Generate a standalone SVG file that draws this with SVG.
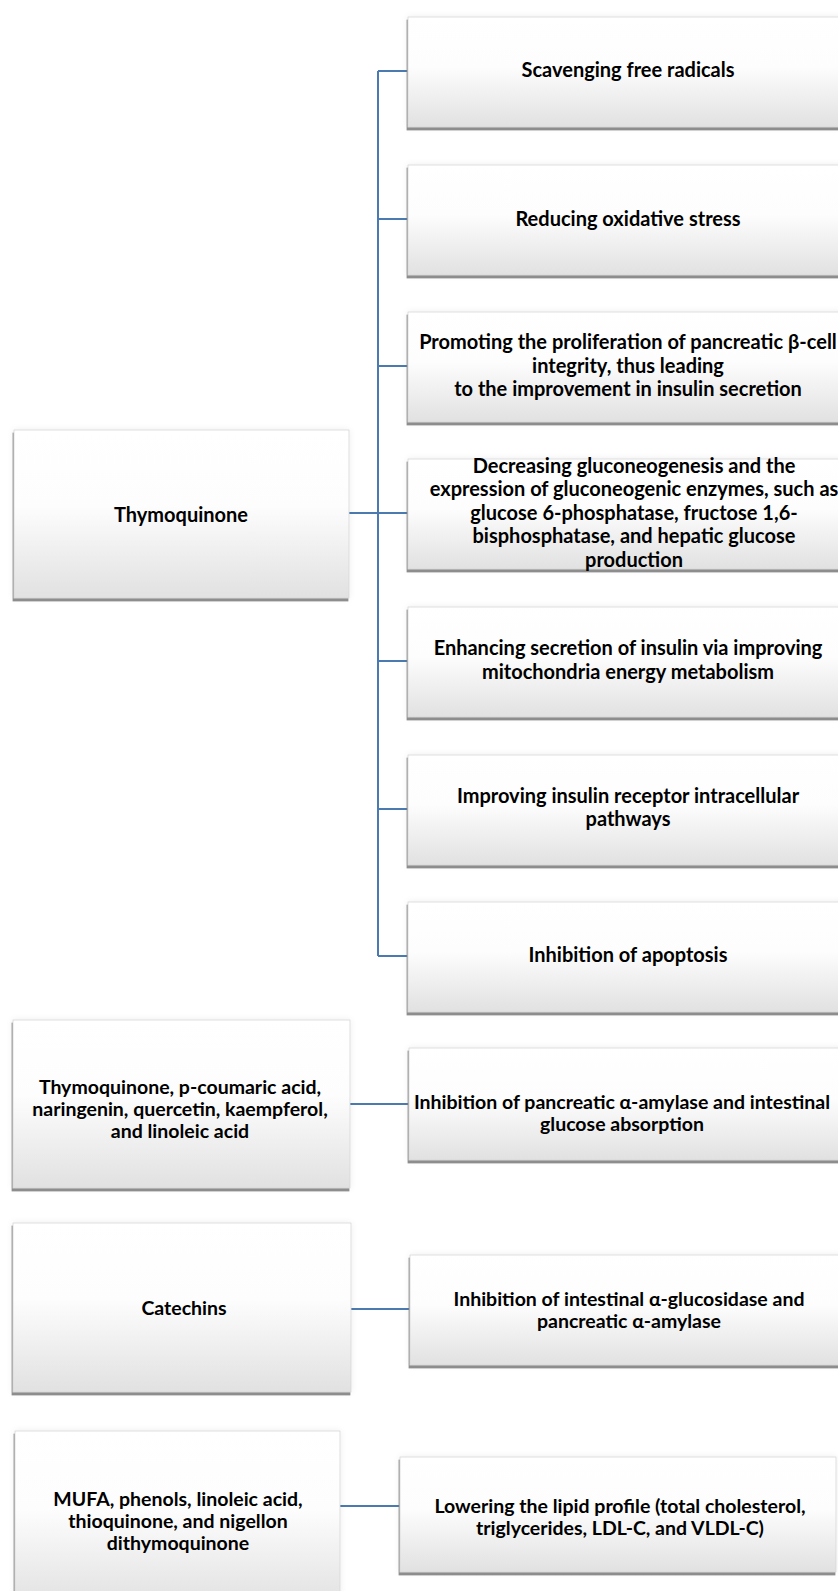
<svg xmlns="http://www.w3.org/2000/svg" width="838" height="1591" viewBox="0 0 838 1591">
<defs>
<linearGradient id="g" x1="0" y1="0" x2="0" y2="1">
<stop offset="0" stop-color="#ffffff"/>
<stop offset="0.45" stop-color="#fdfdfd"/>
<stop offset="1" stop-color="#e1e1e1"/>
</linearGradient>
<filter id="sh" x="-5%" y="-10%" width="110%" height="125%">
<feGaussianBlur in="SourceAlpha" stdDeviation="3" result="glow"/>
<feFlood flood-color="#000" flood-opacity="0.07"/>
<feComposite in2="glow" operator="in" result="glowc"/>
<feOffset in="SourceAlpha" dx="-1.5" dy="3" result="off"/>
<feGaussianBlur in="off" stdDeviation="0.6" result="offb"/>
<feFlood flood-color="#808080" flood-opacity="0.9"/>
<feComposite in2="offb" operator="in" result="drop"/>
<feMerge>
<feMergeNode in="glowc"/>
<feMergeNode in="drop"/>
<feMergeNode in="SourceGraphic"/>
</feMerge>
</filter>
</defs>
<style>
.box{fill:url(#g);filter:url(#sh);stroke:#d6d6d6;stroke-width:0.8}
text{font-family:Lato,"Liberation Sans",sans-serif;font-weight:bold;fill:#000;text-anchor:middle}
.t{font-size:20px}
.s{font-size:19.5px}
.c{fill:none;stroke:#4a7ab0;stroke-width:2}
</style>
<rect width="838" height="1591" fill="#fff"/>

<g id="connectors">
<path class="c" d="M378 71V956M378 71H408M378 219H408M378 366H408M378 513H408M378 661H408M378 809H408M378 956H408M349 513H378"/>
<path class="c" d="M350 1104H409M351 1309H410M340 1506H400"/>
</g>

<g id="n1"><rect class="box" x="408" y="17" width="452" height="110"/>
<text class="t" x="628" y="77">Scavenging free radicals</text></g>

<g id="n2"><rect class="box" x="408" y="165" width="452" height="110"/>
<text class="t" x="628" y="226">Reducing oxidative stress</text></g>

<g id="n3"><rect class="box" x="408" y="312" width="452" height="110"/>
<text class="t" x="628" y="349">Promoting the proliferation of pancreatic β-cell</text>
<text class="t" x="628" y="373">integrity, thus leading</text>
<text class="t" x="628" y="396">to the improvement in insulin secretion</text></g>

<g id="n4"><rect class="box" x="408" y="459" width="452" height="110"/>
<text class="t" x="634" y="473">Decreasing gluconeogenesis and the</text>
<text class="t" x="634" y="496">expression of gluconeogenic enzymes, such as</text>
<text class="t" x="634" y="520">glucose 6-phosphatase, fructose 1,6-</text>
<text class="t" x="634" y="543">bisphosphatase, and hepatic glucose</text>
<text class="t" x="634" y="567">production</text></g>

<g id="n5"><rect class="box" x="408" y="607" width="452" height="110"/>
<text class="t" x="628" y="655">Enhancing secretion of insulin via improving</text>
<text class="t" x="628" y="679">mitochondria energy metabolism</text></g>

<g id="n6"><rect class="box" x="408" y="755" width="452" height="110"/>
<text class="t" x="628" y="803">Improving insulin receptor intracellular</text>
<text class="t" x="628" y="826">pathways</text></g>

<g id="n7"><rect class="box" x="408" y="902" width="452" height="110"/>
<text class="t" x="628" y="962">Inhibition of apoptosis</text></g>

<g id="n0"><rect class="box" x="14" y="430" width="335" height="168"/>
<text class="t" x="181" y="522">Thymoquinone</text></g>

<g id="n8"><rect class="box" x="13" y="1020" width="337" height="168"/>
<text class="s" x="180" y="1094">Thymoquinone, p-coumaric acid,</text>
<text class="s" x="180" y="1116">naringenin, quercetin, kaempferol,</text>
<text class="s" x="180" y="1138">and linoleic acid</text></g>

<g id="n9"><rect class="box" x="409" y="1048" width="450" height="112"/>
<text class="s" x="622" y="1109">Inhibition of pancreatic α-amylase and intestinal</text>
<text class="s" x="622" y="1131">glucose absorption</text></g>

<g id="n10"><rect class="box" x="13" y="1223" width="338" height="169"/>
<text class="s" x="184" y="1315">Catechins</text></g>

<g id="n11"><rect class="box" x="410" y="1255" width="450" height="110"/>
<text class="s" x="629" y="1306">Inhibition of intestinal α-glucosidase and</text>
<text class="s" x="629" y="1328">pancreatic α-amylase</text></g>

<g id="n12"><rect class="box" x="15" y="1431" width="325" height="175"/>
<text class="s" x="178" y="1506">MUFA, phenols, linoleic acid,</text>
<text class="s" x="178" y="1528">thioquinone, and nigellon</text>
<text class="s" x="178" y="1550">dithymoquinone</text></g>

<g id="n13"><rect class="box" x="400" y="1457" width="436" height="115"/>
<text class="s" x="620" y="1513">Lowering the lipid profile (total cholesterol,</text>
<text class="s" x="620" y="1535">triglycerides, LDL-C, and VLDL-C)</text></g>
</svg>
